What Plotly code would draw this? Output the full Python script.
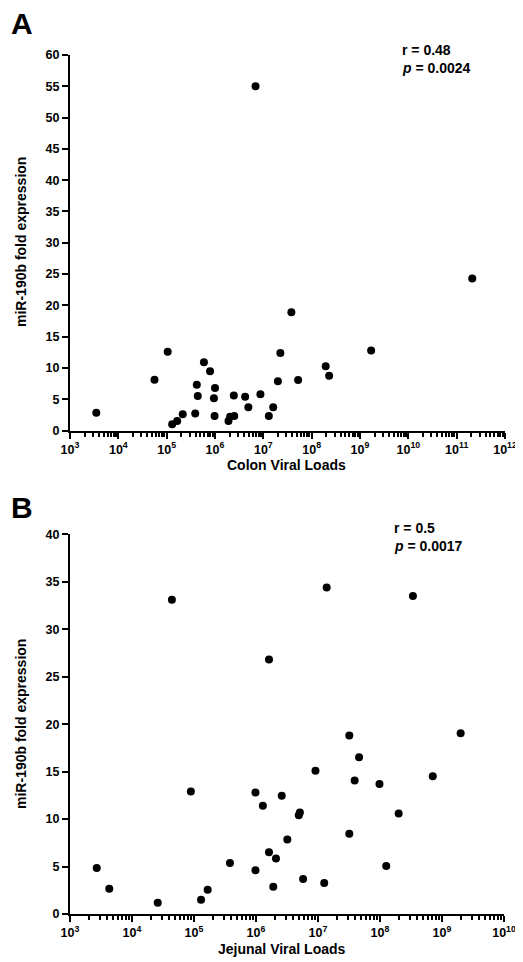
import plotly.graph_objects as go

# Panel A: colon viral loads vs miR-190b fold expression
colon_loads = [3.5e3, 5.6e4, 1.05e5, 1.3e5, 1.65e5, 2.15e5, 3.9e5, 4.2e5, 4.4e5, 5.9e5,
               7.9e5, 9.8e5, 9.5e5, 1.0e6, 1.9e6, 2.05e6, 2.5e6, 2.45e6, 4.2e6, 4.9e6,
               8.7e6, 1.3e7, 1.6e7, 2.0e7, 2.25e7, 3.8e7, 5.25e7, 1.95e8, 2.3e8, 1.7e9,
               2.1e11, 6.9e6]
colon_fold = [2.85, 8.1, 12.6, 1.0, 1.5, 2.6, 2.7, 7.3, 5.5, 10.9,
              9.45, 2.3, 5.15, 6.8, 1.5, 2.2, 2.3, 5.6, 5.4, 3.7,
              5.8, 2.3, 3.7, 7.85, 12.4, 18.9, 8.05, 10.25, 8.75, 12.8,
              24.3, 55.0]

# Panel B: jejunal viral loads
jejunal_loads = [2.7e3, 4.3e3, 2.6e4, 8.9e4, 1.3e5, 1.66e5, 3.8e5, 9.8e5, 9.8e5, 1.29e6,
                 1.62e6, 1.9e6, 2.1e6, 2.6e6, 3.2e6, 4.9e6, 5.1e6, 5.75e6, 1.26e7, 3.2e7,
                 3.9e7, 9.8e7, 1.26e8, 2.0e8, 1.62e6, 3.2e7, 4.6e7, 9.1e6, 7.1e8, 2.0e9,
                 4.4e4, 1.38e7, 3.4e8]
jejunal_fold = [4.84, 2.66, 1.19, 12.9, 1.5, 2.56, 5.37, 12.8, 4.6, 11.4,
                6.5, 2.87, 5.85, 12.45, 7.85, 10.4, 10.7, 3.68, 3.26, 8.45,
                14.06, 13.7, 5.05, 10.6, 26.8, 18.8, 16.5, 15.1, 14.5, 19.05,
                33.1, 34.4, 33.5]

colon_exponents = [3, 4, 5, 6, 7, 8, 9, 10, 11, 12]
jejunal_exponents = [3, 4, 5, 6, 7, 8, 9, 10]
colon_yticks = [0, 5, 10, 15, 20, 25, 30, 35, 40, 45, 50, 55, 60]
jejunal_yticks = [0, 5, 10, 15, 20, 25, 30, 35, 40]

FONT = "Liberation Sans, Arial, sans-serif"
# the page body adds an 8px margin, so the figure is shrunk by that much
OFF = 8
W, H = 523 - OFF, 962 - OFF
L, R, T = 62, 18, 47
B = H - (914 - OFF)
marker = dict(color="black", size=8)
tickfont = dict(family=FONT, size=12.5, color="black", weight="bold")


def px(xp):
    # screen x -> paper x
    return (xp - OFF - L) / (W - L - R)


def py(yp):
    # screen y -> paper y
    return (H - B - (yp - OFF)) / (H - T - B)


def dom(y0, y1):
    return [max(0.0, py(y0)), min(1.0, py(y1))]


fig = go.Figure()
fig.add_trace(go.Scatter(x=colon_loads, y=colon_fold, mode="markers", marker=marker,
                         xaxis="x", yaxis="y", showlegend=False))
fig.add_trace(go.Scatter(x=jejunal_loads, y=jejunal_fold, mode="markers", marker=marker,
                         xaxis="x2", yaxis="y2", showlegend=False))


def xax(exps, anchor, domain):
    minor_vals = [m * 10.0 ** e for e in exps[:-1] for m in range(2, 10)]
    return dict(type="log", range=[exps[0], exps[-1]], domain=domain,
                showgrid=False, zeroline=False,
                showline=True, linecolor="black", linewidth=2,
                ticks="outside", ticklen=6, tickwidth=2, tickcolor="black",
                tickmode="array",
                tickvals=[10.0 ** e for e in exps],
                ticktext=[f"10<sup>{e}</sup>" for e in exps],
                minor=dict(tickmode="array", tickvals=minor_vals, ticks="outside",
                           ticklen=4, tickwidth=1.5, tickcolor="black", showgrid=False),
                tickfont=tickfont, anchor=anchor, automargin=False,
                ticklabeloverflow="allow")


def yax(ticks, domain, anchor):
    return dict(range=[ticks[0], ticks[-1]], domain=domain, showgrid=False, zeroline=False,
                showline=True, linecolor="black", linewidth=2,
                ticks="outside", ticklen=6, tickwidth=2, tickcolor="black",
                tickvals=ticks, tickfont=tickfont, anchor=anchor, automargin=False)


fig.update_layout(
    width=W, height=H,
    margin=dict(l=L, r=R, t=T, b=B),
    plot_bgcolor="white", paper_bgcolor="white",
    xaxis=xax(colon_exponents, "y", [0.0, px(505)]),
    yaxis=yax(colon_yticks, dom(430.5, 55), "x"),
    xaxis2=xax(jejunal_exponents, "y2", [0.0, px(504)]),
    yaxis2=yax(jejunal_yticks, dom(914, 534.3), "x2"),
)

notes = [
    ("<b>A</b>", 9, 23, 30, "left", 0),
    ("<b>B</b>", 9, 507, 30, "left", 0),
    ("<b>r = 0.48</b>", 400, 50, 14, "left", 0),
    ("<b><i>p</i> = 0.0024</b>", 400, 68, 14, "left", 0),
    ("<b>r = 0.5</b>", 392, 528, 14, "left", 0),
    ("<b><i>p</i> = 0.0017</b>", 392, 546, 14, "left", 0),
    ("<b>Colon Viral Loads</b>", 286, 465, 14, "center", 0),
    ("<b>Jejunal Viral Loads</b>", 282, 949, 14, "center", 0),
    ("<b>miR-190b fold expression</b>", 21, 242, 14, "center", -90),
    ("<b>miR-190b fold expression</b>", 21, 724, 14, "center", -90),
]
for text, xp, yp, size, anchor, angle in notes:
    fig.add_annotation(text=text, x=px(xp), y=py(yp), xref="paper", yref="paper",
                       xanchor=anchor, yanchor="middle", showarrow=False, textangle=angle,
                       font=dict(family=FONT, size=size, color="black"))

fig.write_html("out.html")
